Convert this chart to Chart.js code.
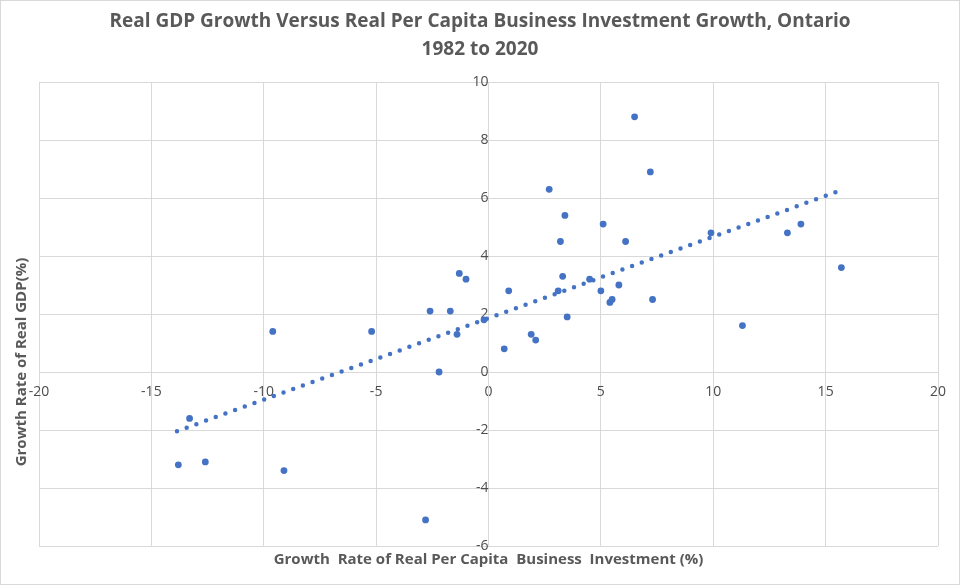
<!DOCTYPE html>
<html>
<head>
<meta charset="utf-8">
<script src="https://cdn.jsdelivr.net/npm/chart.js@4.4.1/dist/chart.umd.min.js"></script>
<style>
  html, body { margin: 0; padding: 0; background: #fff; }
  #wrap { width: 960px; height: 585px; position: relative; }
</style>
</head>
<body>
<div id="wrap"><canvas id="gdpChart" width="960" height="585"></canvas></div>
<script>
// Growth of real per capita business investment (%), one value per year 1982-2020
const investmentGrowth = [
  -9.6, -13.3, -13.8, -12.6, -9.1, -5.2, -2.6, -1.7, -2.2, -1.3,
  -1.0, -1.4, -2.8, -0.2, 0.9, 0.7, 1.9, 2.1, 3.2, 3.3,
  3.1, 3.5, 4.5, 5.0, 5.4, 5.5, 5.8, 6.1, 6.5, 7.2,
  2.7, 3.4, 5.1, 7.3, 11.3, 9.9, 13.3, 13.9, 15.7
];
// Growth of real GDP (%), same order
const gdpGrowth = [
  1.4, -1.6, -3.2, -3.1, -3.4, 1.4, 2.1, 2.1, 0.0, 3.4,
  3.2, 1.3, -5.1, 1.8, 2.8, 0.8, 1.3, 1.1, 4.5, 3.3,
  2.8, 1.9, 3.2, 2.8, 2.4, 2.5, 3.0, 4.5, 8.8, 6.9,
  6.3, 5.4, 5.1, 2.5, 1.6, 4.8, 4.8, 5.1, 3.6
];
// linear trendline end points
const trendX = [-13.86, 15.7];
const trendY = [-2.04, 6.27];

const titleLines = [
  "Real GDP Growth Versus Real Per Capita Business Investment Growth, Ontario",
  "1982 to 2020"
];
const xAxisTitle = "Growth  Rate of Real Per Capita  Business  Investment (%)";
const yAxisTitle = "Growth Rate of Real GDP(%)";

const FONT = "'Open Sans', 'Liberation Sans', sans-serif";
const TEXT_COLOR = "#595959";
const GRID_COLOR = "#d9d9d9";
const POINT_COLOR = "#4472C4";

// Title, axis titles and chart frame drawn by hand (the axes sit at zero)
const decorations = {
  id: "decorations",
  afterDraw(chart) {
    const ctx = chart.ctx;
    const area = chart.chartArea;
    ctx.save();
    ctx.strokeStyle = GRID_COLOR;
    ctx.lineWidth = 1;
    ctx.strokeRect(0.5, 0.5, chart.width - 1, chart.height - 1);

    ctx.fillStyle = TEXT_COLOR;
    ctx.textAlign = "center";
    ctx.textBaseline = "middle";
    ctx.font = "bold 19px " + FONT;
    ctx.fillText(titleLines[0], 480, 22);
    ctx.fillText(titleLines[1], 480, 50);

    ctx.font = "bold 15px " + FONT;
    ctx.fillText(xAxisTitle, (area.left + area.right) / 2, 560);

    ctx.translate(22, 362);
    ctx.rotate(-Math.PI / 2);
    ctx.fillText(yAxisTitle, 0, 0);
    ctx.restore();
  }
};

const scatterPoints = investmentGrowth.map((x, i) => ({ x: x, y: gdpGrowth[i] }));
const trendPoints = trendX.map((x, i) => ({ x: x, y: trendY[i] }));

const ctx = document.getElementById("gdpChart").getContext("2d");
const chart = new Chart(ctx, {
  type: "scatter",
  data: {
    datasets: [
      {
        label: "Real GDP growth",
        data: scatterPoints,
        backgroundColor: POINT_COLOR,
        borderColor: POINT_COLOR,
        pointRadius: 3.4,
        pointBorderWidth: 0,
        order: 1,
      },
      {
        label: "Linear trend",
        type: "line",
        data: trendPoints,
        borderColor: POINT_COLOR,
        borderWidth: 4.5,
        borderDash: [0, 10.3],
        borderCapStyle: "round",
        pointRadius: 0,
        fill: false,
        order: 2,
      },
    ],
  },
  options: {
    responsive: false,
    animation: false,
    layout: {
      padding: { left: 39, right: 22, top: 82, bottom: 39 },
    },
    scales: {
      x: {
        type: "linear",
        min: -20,
        max: 20,
        position: { y: 0 },
        ticks: {
          stepSize: 5,
          color: "#4d4d4d",
          font: { family: FONT, size: 14 },
          padding: 12,
        },
        grid: { color: GRID_COLOR, drawTicks: false },
        border: { color: GRID_COLOR },
      },
      y: {
        type: "linear",
        min: -6,
        max: 10,
        position: { x: 0 },
        ticks: {
          stepSize: 2,
          color: "#4d4d4d",
          font: { family: FONT, size: 14 },
          padding: 14,
        },
        grid: { color: GRID_COLOR, drawTicks: false },
        border: { color: GRID_COLOR },
      },
    },
    plugins: {
      legend: { display: false },
      title: { display: false },
      tooltip: { enabled: false },
    },
  },
  plugins: [decorations],
});
</script>
</body>
</html>
